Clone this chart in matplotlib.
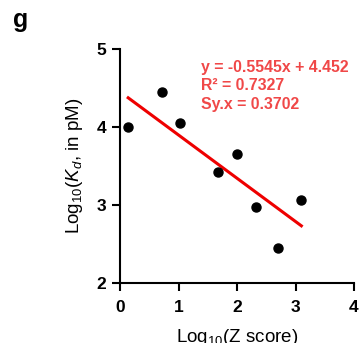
import numpy as np
import matplotlib
matplotlib.use('Agg')
import matplotlib.pyplot as plt

plt.rcParams['font.family'] = ['Liberation Sans', 'DejaVu Sans']
plt.rcParams['mathtext.fontset'] = 'custom'
plt.rcParams['mathtext.rm'] = 'Liberation Sans'
plt.rcParams['mathtext.it'] = 'Liberation Sans:italic'
plt.rcParams['mathtext.bf'] = 'Liberation Sans:bold'

# data
log_z = [0.14, 0.71, 1.03, 1.68, 2.00, 2.33, 2.70, 3.10]
log_kd = [4.00, 4.45, 4.05, 3.42, 3.65, 2.97, 2.45, 3.07]
slope = -0.5545
intercept = 4.452
r_squared = 0.7327
syx = 0.3702

x_ticks = [0, 1, 2, 3, 4]
y_ticks = [2, 3, 4, 5]

fig = plt.figure(figsize=(3.59, 3.43), dpi=100)
ax = fig.add_axes([120 / 359, 1 - 283 / 343, 234 / 359, 234 / 343])

ax.plot(log_z, log_kd, 'o', color='black', markersize=6.5, clip_on=False, zorder=3)

xfit = np.array([min(log_z), max(log_z)])
ax.plot(xfit, slope * xfit + intercept, color='#ee0000', linewidth=2.2, zorder=2)

ax.set_xlim(0, 4)
ax.set_ylim(2, 5)
ax.set_xticks(x_ticks)
ax.set_yticks(y_ticks)
ax.tick_params(width=1.5, length=6, labelsize=12.5)
ax.tick_params(axis='x', pad=6)
ax.tick_params(axis='y', pad=4)
for lbl in ax.get_xticklabels() + ax.get_yticklabels():
    lbl.set_fontweight('bold')
for side in ['top', 'right']:
    ax.spines[side].set_visible(False)
for side in ['left', 'bottom']:
    ax.spines[side].set_linewidth(1.5)

ax.set_xlabel(r'Log$_{10}$(Z score)', fontsize=13.5, labelpad=9)
ax.set_ylabel(r'Log$_{10}$($K_d$, in pM)', fontsize=13.5, labelpad=8)

txt = (f'y = {slope}x + {intercept}\n'
       f'R\u00b2 = {r_squared}\n'
       f'Sy.x = {syx}')
ax.text(0.348, 0.955, txt, transform=ax.transAxes, color='#f04848',
        fontsize=11.4, fontweight='bold', va='top', ha='left', linespacing=1.3)

fig.text(13 / 359, 1 - 8 / 343, 'g', fontsize=18, fontweight='bold', va='top', ha='left')

plt.savefig('out.png', dpi=100)
